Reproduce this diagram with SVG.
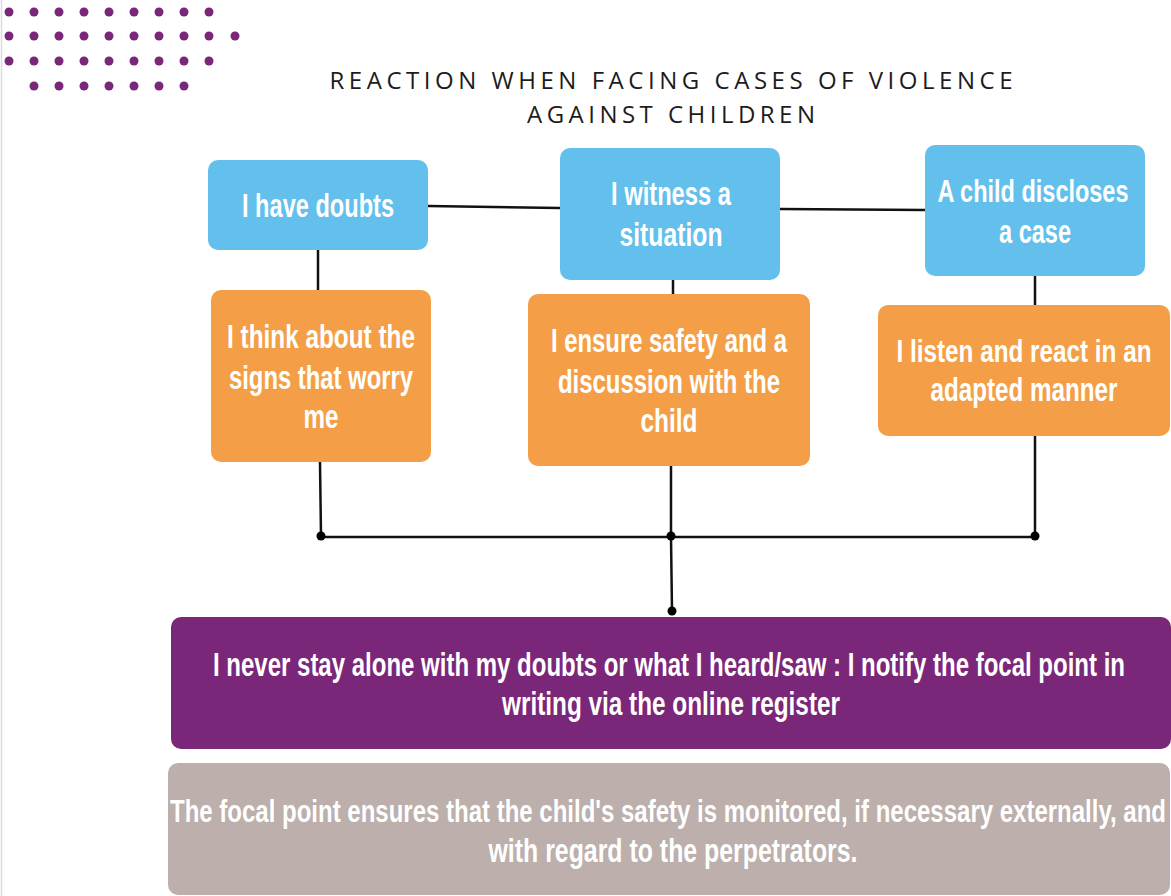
<svg xmlns="http://www.w3.org/2000/svg" width="1171" height="896" viewBox="0 0 1171 896">
<defs>
<style>
.dot{fill:#7A2779}
.box{stroke:none}
.blue{fill:#63BFEB}
.orange{fill:#F49F47}
.purple{fill:#7A2779}
.grey{fill:#BCAFAC}
.lbl{font-family:"Liberation Sans Narrow","Liberation Sans",Arial,sans-serif;font-weight:bold;font-size:34px;fill:#ffffff;text-anchor:middle}
.sm{font-size:31px}
.title{font-family:"Open Sans","Liberation Sans",sans-serif;font-weight:500;font-size:24px;fill:#1c1c1c;text-anchor:middle}
.wire{stroke:#111;stroke-width:2.5;fill:none}
.jn{fill:#000}
</style>
</defs>
<rect width="1171" height="896" fill="#ffffff"/>
<line x1="1.5" y1="0" x2="1.5" y2="896" stroke="#dcdae3" stroke-width="1.5"/>
<g id="dots">
<g class="dot">
<circle cx="9" cy="12" r="4.5"/><circle cx="34" cy="12" r="4.5"/><circle cx="59" cy="12" r="4.5"/><circle cx="84" cy="12" r="4.5"/><circle cx="109" cy="12" r="4.5"/><circle cx="134" cy="12" r="4.5"/><circle cx="159" cy="12" r="4.5"/><circle cx="184" cy="12" r="4.5"/><circle cx="209" cy="12" r="4.5"/>
<circle cx="9" cy="36" r="4.5"/><circle cx="34" cy="36" r="4.5"/><circle cx="59" cy="36" r="4.5"/><circle cx="84" cy="36" r="4.5"/><circle cx="109" cy="36" r="4.5"/><circle cx="134" cy="36" r="4.5"/><circle cx="159" cy="36" r="4.5"/><circle cx="184" cy="36" r="4.5"/><circle cx="209" cy="36" r="4.5"/><circle cx="235" cy="36" r="4.5"/>
<circle cx="9" cy="61" r="4.5"/><circle cx="34" cy="61" r="4.5"/><circle cx="59" cy="61" r="4.5"/><circle cx="84" cy="61" r="4.5"/><circle cx="109" cy="61" r="4.5"/><circle cx="134" cy="61" r="4.5"/><circle cx="159" cy="61" r="4.5"/><circle cx="184" cy="61" r="4.5"/><circle cx="209" cy="61" r="4.5"/>
<circle cx="34" cy="86" r="4.5"/><circle cx="59" cy="86" r="4.5"/><circle cx="84" cy="86" r="4.5"/><circle cx="109" cy="86" r="4.5"/><circle cx="134" cy="86" r="4.5"/><circle cx="159" cy="86" r="4.5"/><circle cx="184" cy="86" r="4.5"/>
</g>
</g>
<g id="title">
<text class="title" x="671" y="89" textLength="683" lengthAdjust="spacing">REACTION WHEN FACING CASES OF VIOLENCE</text>
<text class="title" x="671" y="123" textLength="288" lengthAdjust="spacing">AGAINST CHILDREN</text>
</g>
<g id="connectors">
<line class="wire" x1="428" y1="206" x2="560" y2="208"/>
<line class="wire" x1="780" y1="209" x2="925" y2="210"/>
<line class="wire" x1="318" y1="250" x2="318" y2="290"/>
<line class="wire" x1="673" y1="280" x2="673" y2="294"/>
<line class="wire" x1="1035" y1="276" x2="1035" y2="305"/>
<line class="wire" x1="320" y1="462" x2="321" y2="536"/>
<line class="wire" x1="671" y1="466" x2="671" y2="536"/>
<line class="wire" x1="1035" y1="436" x2="1035" y2="536"/>
<line class="wire" x1="321" y1="537" x2="1035" y2="537"/>
<line class="wire" x1="671" y1="537" x2="672" y2="611"/>
<circle class="jn" cx="321" cy="536" r="4.5"/>
<circle class="jn" cx="671" cy="536" r="4.5"/>
<circle class="jn" cx="1035" cy="536" r="4.5"/>
<circle class="jn" cx="672" cy="611" r="4.5"/>
</g>
<g id="n-doubts">
<rect class="box blue" x="208" y="160" width="220" height="90" rx="10"/>
<text class="lbl" x="318" y="217" textLength="152" lengthAdjust="spacingAndGlyphs">I have doubts</text>
</g>
<g id="n-witness">
<rect class="box blue" x="560" y="148" width="220" height="132" rx="10"/>
<text class="lbl" x="671" y="205" textLength="120" lengthAdjust="spacingAndGlyphs">I witness a</text>
<text class="lbl" x="671" y="246" textLength="103" lengthAdjust="spacingAndGlyphs">situation</text>
</g>
<g id="n-discloses">
<rect class="box blue" x="925" y="145" width="220" height="131" rx="10"/>
<text class="lbl sm" x="1033" y="202" textLength="191" lengthAdjust="spacingAndGlyphs">A child discloses</text>
<text class="lbl" x="1035" y="243" textLength="72" lengthAdjust="spacingAndGlyphs">a case</text>
</g>
<g id="n-think">
<rect class="box orange" x="211" y="290" width="220" height="172" rx="10"/>
<text class="lbl" x="321" y="348" textLength="188" lengthAdjust="spacingAndGlyphs">I think about the</text>
<text class="lbl" x="321" y="389" textLength="184" lengthAdjust="spacingAndGlyphs">signs that worry</text>
<text class="lbl" x="321" y="428" textLength="35" lengthAdjust="spacingAndGlyphs">me</text>
</g>
<g id="n-ensure">
<rect class="box orange" x="528" y="294" width="282" height="172" rx="10"/>
<text class="lbl" x="669" y="352" textLength="236" lengthAdjust="spacingAndGlyphs">I ensure safety and a</text>
<text class="lbl" x="669" y="393" textLength="222" lengthAdjust="spacingAndGlyphs">discussion with the</text>
<text class="lbl" x="669" y="432" textLength="57" lengthAdjust="spacingAndGlyphs">child</text>
</g>
<g id="n-listen">
<rect class="box orange" x="878" y="305" width="292" height="131" rx="10"/>
<text class="lbl sm" x="1024" y="362" textLength="255" lengthAdjust="spacingAndGlyphs">I listen and react in an</text>
<text class="lbl" x="1024" y="401" textLength="187" lengthAdjust="spacingAndGlyphs">adapted manner</text>
</g>
<g id="n-notify">
<rect class="box purple" x="171" y="617" width="1000" height="132" rx="10"/>
<text class="lbl" x="669" y="676" textLength="912" lengthAdjust="spacingAndGlyphs">I never stay alone with my doubts or what I heard/saw : I notify the focal point in</text>
<text class="lbl" x="671" y="715" textLength="338" lengthAdjust="spacingAndGlyphs">writing via the online register</text>
</g>
<g id="n-focal">
<rect class="box grey" x="168" y="763" width="1002" height="132" rx="10"/>
<text class="lbl sm" x="668" y="822" textLength="996" lengthAdjust="spacingAndGlyphs">The focal point ensures that the child's safety is monitored, if necessary externally, and</text>
<text class="lbl" x="673" y="862" textLength="369" lengthAdjust="spacingAndGlyphs">with regard to the perpetrators.</text>
</g>
</svg>
